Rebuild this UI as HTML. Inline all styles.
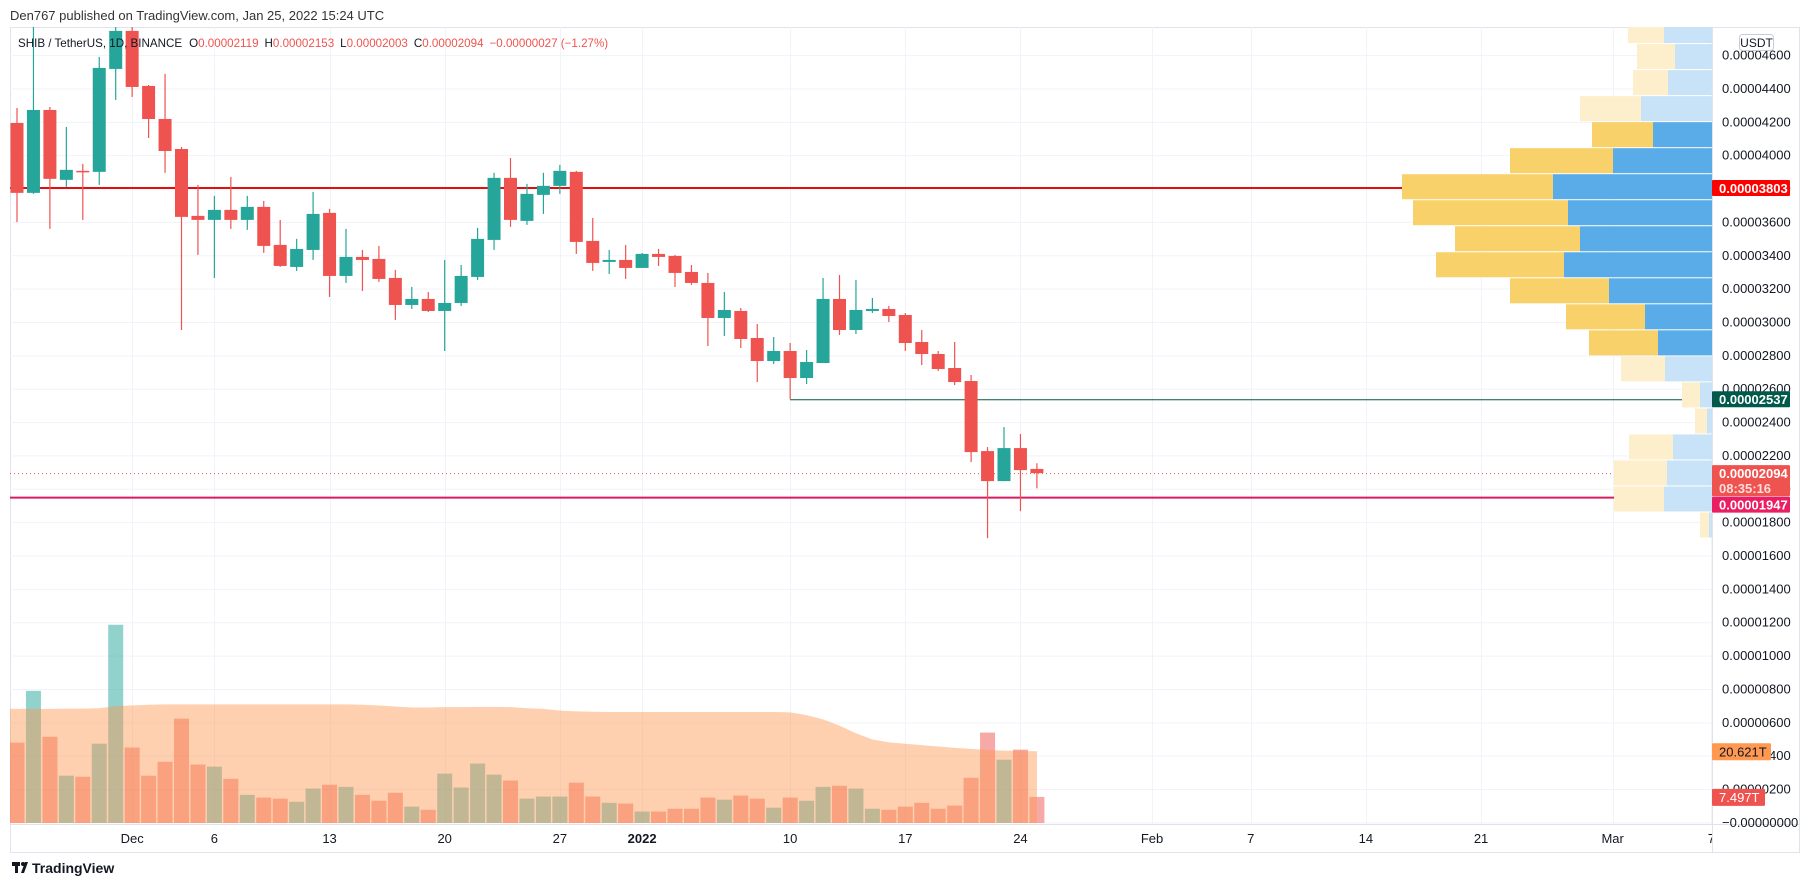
<!DOCTYPE html>
<html><head><meta charset="utf-8">
<style>
html,body{margin:0;padding:0;background:#fff;}
body{width:1810px;height:887px;overflow:hidden;font-family:"Liberation Sans",sans-serif;}
svg{display:block;}
</style></head>
<body>
<svg id="chart" width="1810" height="887" viewBox="0 0 1810 887" xmlns="http://www.w3.org/2000/svg" font-family="Liberation Sans, sans-serif">
  <defs>
    <clipPath id="plotClip"><rect x="10" y="27" width="1702" height="797"/></clipPath>
    <clipPath id="axisClip"><rect x="10" y="824" width="1702" height="28"/></clipPath>
  </defs>
  <text x="10" y="20" font-size="13" fill="#333">Den767 published on TradingView.com, Jan 25, 2022 15:24 UTC</text>
  <rect x="10.5" y="27.5" width="1789" height="825" fill="#fff" stroke="#e0e3eb"/>
  <g id="grid"></g>
  <g id="volume" clip-path="url(#plotClip)"></g>
  <g id="hlines" clip-path="url(#plotClip)"></g>
  <g id="candles" clip-path="url(#plotClip)"></g>
  <g id="vp" clip-path="url(#plotClip)"></g>
  <line x1="1712.5" y1="27" x2="1712.5" y2="852" stroke="#e0e3eb"/>
  <line x1="10" y1="824.5" x2="1799" y2="824.5" stroke="#e0e3eb"/>
  <g id="yaxis"></g>
  <g id="xaxis" clip-path="url(#axisClip)"></g>
  <g id="labels"></g>
  <text x="18" y="47" font-size="11.6" fill="#131722"><tspan>SHIB / TetherUS, 1D, BINANCE</tspan><tspan dx="7">O</tspan><tspan fill="#ef5350">0.00002119</tspan><tspan dx="6">H</tspan><tspan fill="#ef5350">0.00002153</tspan><tspan dx="6">L</tspan><tspan fill="#ef5350">0.00002003</tspan><tspan dx="6">C</tspan><tspan fill="#ef5350">0.00002094</tspan><tspan dx="6" fill="#ef5350">−0.00000027 (−1.27%)</tspan></text>
  <g>
    <rect x="1739.5" y="34.5" width="34" height="16" rx="3" fill="#fff" stroke="#c9ccd4"/>
    <text x="1756.5" y="47" font-size="12" text-anchor="middle" fill="#131722">USDT</text>
  </g>
  <g>
    <rect x="12" y="862" width="8" height="4" fill="#131722"/>
    <rect x="15" y="862" width="3" height="11" fill="#131722"/>
    <circle cx="23" cy="864" r="2" fill="#131722"/>
    <path d="M21 873 L25 862 L28 862 L24 873 Z" fill="#131722"/>
    <text x="32" y="873" font-size="14" font-weight="bold" fill="#131722">TradingView</text>
  </g>
</svg>
<script>
// ---- data (prices in units of 1e-8 USDT, volumes in trillions) ----
const opens  = [4193,3774,4271,3852,3906,3900,4517,4745,4415,4217,4037,3636,3612,3672,3612,3690,3462,3330,3432,3654,3276,3390,3378,3264,3102,3138,3066,3114,3270,3492,3864,3606,3762,3816,3900,3486,3360,3372,3324,3408,3396,3300,3234,3024,3066,2904,2766,2826,2664,2754,3138,2952,3066,3078,3042,2880,2808,2724,2646,2226,2046,2244,2119];
const highs  = [4283,4790,4289,4169,3948,4589,4850,4900,4421,4487,4049,3822,3756,3870,3756,3726,3612,3498,3780,3678,3558,3432,3456,3312,3210,3180,3372,3342,3564,3894,3983,3828,3894,3942,3906,3624,3432,3462,3414,3438,3402,3342,3294,3180,3084,2988,2910,2874,2832,3264,3282,3252,3144,3096,3054,2952,2826,2880,2682,2250,2370,2328,2153];
const lows   = [3599,3768,3558,3810,3612,3822,4331,4349,4103,3894,2952,3402,3264,3558,3552,3414,3330,3306,3372,3150,3234,3186,3240,3012,3078,3060,2826,3096,3252,3432,3570,3582,3648,3768,3408,3306,3288,3258,3324,3336,3210,3222,2856,2916,2844,2640,2748,2538,2628,2754,2922,2928,3054,3000,2826,2742,2706,2622,2160,1704,2046,1866,2003];
const closes = [3774,4271,3858,3912,3900,4523,4745,4409,4217,4025,3630,3612,3672,3612,3690,3456,3336,3438,3648,3276,3390,3372,3258,3102,3138,3066,3114,3276,3498,3864,3612,3768,3816,3906,3480,3354,3372,3324,3408,3390,3294,3234,3024,3072,2898,2766,2826,2664,2760,3138,2952,3072,3078,3036,2874,2808,2718,2640,2220,2046,2244,2112,2094];
const volumes = [23.1,38.0,24.8,13.6,13.3,22.8,57.0,21.7,13.6,17.6,30.0,16.8,16.2,12.7,8.1,7.3,7.0,6.1,9.9,11.0,10.4,8.1,6.4,8.7,4.7,3.8,14.2,10.2,17.1,13.9,12.2,7.0,7.6,7.6,11.6,7.6,5.8,5.6,3.3,3.3,4.1,4.1,7.3,6.7,7.9,7.0,4.4,7.3,6.4,10.4,10.7,9.9,4.1,3.8,4.7,5.8,4.1,5.0,13.0,26.0,18.2,21.1,7.497];
const volumeMA = [32.8,32.8,32.8,32.9,32.9,33.0,33.6,33.8,34.0,34.1,34.1,34.1,34.1,34.1,34.1,34.1,34.1,34.1,34.1,34.1,34.1,34.0,33.8,33.5,33.2,33.2,33.3,33.3,33.4,33.4,33.3,33.0,32.8,32.3,32.1,32.0,31.9,31.9,31.9,31.9,31.9,31.9,31.9,31.9,31.9,31.9,31.9,31.8,31.0,29.8,28.0,25.8,24.0,23.2,22.8,22.4,22.0,21.6,21.3,21.0,20.8,20.7,20.621];
const priceTicks = [0,200,400,600,800,1000,1200,1400,1600,1800,2000,2200,2400,2600,2800,3000,3200,3400,3600,3800,4000,4200,4400,4600];
const dateTickLabels = ["Dec","6","13","20","27","2022","10","17","24","Feb","7","14","21","Mar","7"];
const dateTickDays   = [7,12,19,26,33,38,47,54,61,69,75,82,89,97,103];
// volume profile (bins from low price upward)
const vpBinLow = 1705;
const vpBinSize = 156;
const vpUp   = [3,48,45,39,5,12,47,54,67,103,148,132,144,159,99,59,71,44,37,48];
const vpDown = [9,50,53,44,12,18,44,69,79,99,128,125,155,151,103,61,61,35,38,36];
const vpValueArea = [0,0,0,0,0,0,0,1,1,1,1,1,1,1,1,1,0,0,0,0];
const levelPrices = [3803,2537,1947];
const lastPrice = 2094;

// ---- scales ----
const NS="http://www.w3.org/2000/svg";
function xDay(i){return 17 + i*16.45;}
function yP(p){return 822.4 - p/5.995;}
function yV(v){return 823 - v*3.478;}
function el(tag, attrs, parent){const e=document.createElementNS(NS,tag);for(const k in attrs)e.setAttribute(k,attrs[k]);parent.appendChild(e);return e;}
const GREEN="#26a69a", RED="#ef5350";

// grid
const grid=document.getElementById('grid');
priceTicks.forEach(p=>{
  const ln=el('line',{x1:10,x2:1712,y1:yP(p)+0.5,y2:yP(p)+0.5,stroke:'#f0f3fa'},grid);
  
  
});
dateTickDays.forEach(d=>{
  const x=Math.round(xDay(d))+0.5;
  if(x>1712) return;
  const ln=el('line',{x1:x,x2:x,y1:27,y2:824,stroke:'#f0f3fa'},grid);
  
  
});

// volume
const vol=document.getElementById('volume');
volumes.forEach((v,i)=>{
  const up=closes[i]>=opens[i];
  const r=el('rect',{x:xDay(i)-7.5,y:yV(v),width:15,height:823-yV(v),fill:up?'rgba(38,166,154,0.5)':'rgba(239,83,80,0.5)'},vol);
  
  
});
let pts=`10,823 10,${yV(volumeMA[0])} `;
volumeMA.forEach((m,i)=>{pts+=`${xDay(i)},${yV(m)} `;});
pts+=`${xDay(volumeMA.length-1)},823`;
const ma=el('polygon',{points:pts,fill:'rgba(253,151,79,0.45)'},vol);



// horizontal levels
const hl=document.getElementById('hlines');
const l1=el('line',{x1:10,x2:1712,y1:yP(levelPrices[0]),y2:yP(levelPrices[0]),stroke:'#e01010','stroke-width':2},hl);


const l2=el('line',{x1:xDay(47),x2:1712,y1:yP(levelPrices[1])+0.5,y2:yP(levelPrices[1])+0.5,stroke:'#00594a','stroke-width':1},hl);


const l2b=el('line',{x1:xDay(47)+0.5,x2:xDay(47)+0.5,y1:yP(lows[47]),y2:yP(levelPrices[1]),stroke:'#00594a','stroke-width':1},hl);


const l3=el('line',{x1:10,x2:1712,y1:yP(levelPrices[2]),y2:yP(levelPrices[2]),stroke:'#d81b60','stroke-width':2},hl);


const l4=el('line',{x1:10,x2:1712,y1:yP(lastPrice)+0.5,y2:yP(lastPrice)+0.5,stroke:'#ef5350','stroke-width':1,'stroke-dasharray':'1 3'},hl);



// candles
const cg=document.getElementById('candles');
opens.forEach((o,i)=>{
  const c=closes[i], up=c>=o, col=up?GREEN:RED, x=xDay(i);
  const g=el('g',{},cg);
  
  
  el('line',{x1:x,x2:x,y1:yP(highs[i]),y2:yP(lows[i]),stroke:col,'stroke-width':1.2},g);
  const top=yP(Math.max(o,c)), bot=yP(Math.min(o,c));
  el('rect',{x:x-6.5,y:top,width:13,height:Math.max(1.5,bot-top),fill:col},g);
});

// volume profile
const vp=document.getElementById('vp');
vpUp.forEach((u,b)=>{
  const d=vpDown[b], va=vpValueArea[b];
  const yTop=yP(vpBinLow+(b+1)*vpBinSize)+0.5, h=vpBinSize/5.995-1;
  const g=el('g',{},vp);
  
  
  el('rect',{x:1712-u,y:yTop,width:u,height:h,fill:va?'#5aace8':'#c8e3f7'},g);
  el('rect',{x:1712-u-d,y:yTop,width:d,height:h,fill:va?'#f9d16a':'#fdefcb'},g);
});

// price axis
const ya=document.getElementById('yaxis');
priceTicks.forEach(p=>{
  const t=el('text',{x:1722,y:yP(p)+4.5,'font-size':13,fill:'#131722'},ya);
  t.textContent=(p===0?'\u22120.00000000':'0.'+String(p).padStart(8,'0'));
  
  
});

// time axis
const xa=document.getElementById('xaxis');
dateTickLabels.forEach((lab,i)=>{
  const t=el('text',{x:xDay(dateTickDays[i]),y:843,'font-size':13,'text-anchor':'middle',fill:'#131722','font-weight':lab==='2022'?'bold':'normal'},xa);
  t.textContent=lab;
  
  
});

// axis price labels
const lg=document.getElementById('labels');
function badge(name,y,h,w,bg,txt,col,weight){
  const g=el('g',{},lg);
  
  
  el('rect',{x:1712,y:y,width:w,height:h,fill:bg,rx:1},g);
  txt.forEach((s,k)=>{const t=el('text',{x:1719,y:y+13+k*15,'font-size':13,fill:col[k],'font-weight':weight},g);t.textContent=s;});
}
function fmt(p){return '0.'+String(p).padStart(8,'0');}
badge('resistance-price-label',yP(levelPrices[0])-8,16,78,'#ff0000',[fmt(levelPrices[0])],['#fff'],'bold');
badge('support-ray-price-label',yP(levelPrices[1])-8,16,78,'#00594a',[fmt(levelPrices[1])],['#fff'],'bold');
badge('last-price-label',yP(lastPrice)-8,31,78,'#ef5350',[fmt(lastPrice),'08:35:16'],['#fff','#fdd'],'bold');
badge('support-price-label',yP(levelPrices[2])-1,16,78,'#e91e63',[fmt(levelPrices[2])],['#fff'],'bold');
badge('volume-ma-label',yV(volumeMA[volumeMA.length-1])-8,17,59,'#ff9850',['20.621T'],['#131722'],'normal');
badge('volume-last-label',yV(volumes[volumes.length-1])-8,17,53,'#ef5350',['7.497T'],['#fff'],'normal');
</script>
</body></html>
